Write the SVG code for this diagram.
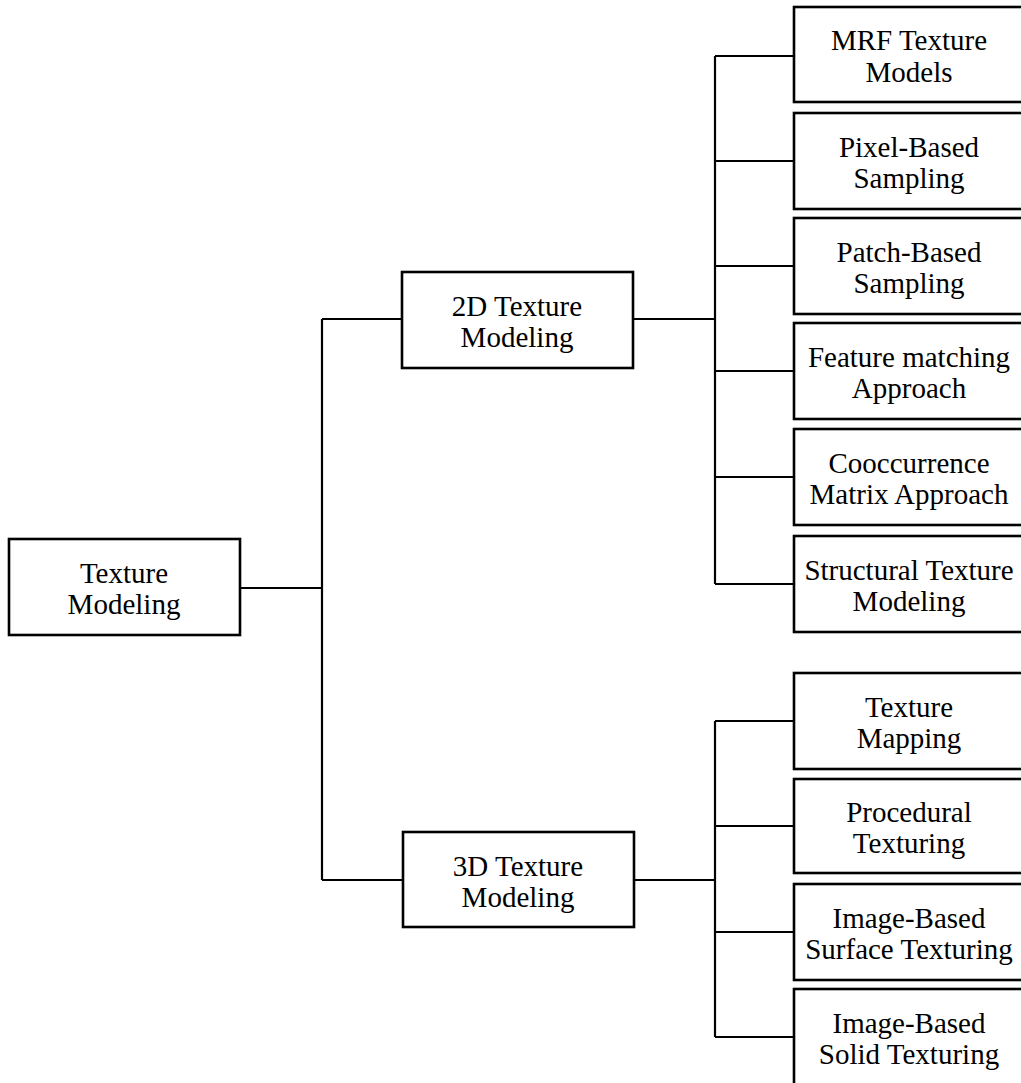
<svg xmlns="http://www.w3.org/2000/svg" width="1021" height="1083" viewBox="0 0 1021 1083">
  <style>
    .box { fill: #ffffff; stroke: #000000; stroke-width: 2.6; }
    .wire { fill: none; stroke: #000000; stroke-width: 2.2; }
    .lbl { font-family: "Liberation Serif", "Times New Roman", serif; font-size: 29px; fill: #000000; text-anchor: middle; }
  </style>
  <rect width="1021" height="1083" fill="#ffffff"/>

  <!-- tree connectors -->
  <g id="connectors">
    <path class="wire" d="M240 588 H322"/>
    <path class="wire" d="M322 319 V880"/>
    <path class="wire" d="M322 319 H402"/>
    <path class="wire" d="M322 880 H403"/>
    <path class="wire" d="M633 319 H715"/>
    <path class="wire" d="M634 880 H715"/>
    <!-- 2D branch -->
    <path class="wire" d="M715 56 V584"/>
    <path class="wire" d="M715 56 H794 M715 161 H794 M715 266 H794 M715 371 H794 M715 477 H794 M715 584 H794"/>
    <!-- 3D branch -->
    <path class="wire" d="M715 721 V1037"/>
    <path class="wire" d="M715 721 H794 M715 826 H794 M715 932 H794 M715 1037 H794"/>
  </g>

  <g id="texture-modeling">
    <rect class="box" x="9" y="539" width="231" height="96"/>
    <text class="lbl" x="124" y="583">Texture</text>
    <text class="lbl" x="124" y="614">Modeling</text>
  </g>

  <g id="texture-2d">
    <rect class="box" x="402" y="272" width="231" height="96"/>
    <text class="lbl" x="517" y="316">2D Texture</text>
    <text class="lbl" x="517" y="347">Modeling</text>
  </g>

  <g id="texture-3d">
    <rect class="box" x="403" y="832" width="231" height="95"/>
    <text class="lbl" x="518" y="876">3D Texture</text>
    <text class="lbl" x="518" y="907">Modeling</text>
  </g>

  <g id="mrf">
    <rect class="box" x="794" y="7" width="232" height="95"/>
    <text class="lbl" x="909" y="50">MRF Texture</text>
    <text class="lbl" x="909" y="82">Models</text>
  </g>

  <g id="pixel-based">
    <rect class="box" x="794" y="113" width="232" height="96"/>
    <text class="lbl" x="909" y="157">Pixel-Based</text>
    <text class="lbl" x="909" y="188">Sampling</text>
  </g>

  <g id="patch-based">
    <rect class="box" x="794" y="218" width="232" height="96"/>
    <text class="lbl" x="909" y="262">Patch-Based</text>
    <text class="lbl" x="909" y="293">Sampling</text>
  </g>

  <g id="feature-matching">
    <rect class="box" x="794" y="323" width="232" height="96"/>
    <text class="lbl" x="909" y="367">Feature matching</text>
    <text class="lbl" x="909" y="398">Approach</text>
  </g>

  <g id="cooccurrence">
    <rect class="box" x="794" y="429" width="232" height="96"/>
    <text class="lbl" x="909" y="473">Cooccurrence</text>
    <text class="lbl" x="909" y="504">Matrix Approach</text>
  </g>

  <g id="structural">
    <rect class="box" x="794" y="536" width="232" height="96"/>
    <text class="lbl" x="909" y="580">Structural Texture</text>
    <text class="lbl" x="909" y="611">Modeling</text>
  </g>

  <g id="texture-mapping">
    <rect class="box" x="794" y="673" width="232" height="96"/>
    <text class="lbl" x="909" y="717">Texture</text>
    <text class="lbl" x="909" y="748">Mapping</text>
  </g>

  <g id="procedural">
    <rect class="box" x="794" y="779" width="232" height="94"/>
    <text class="lbl" x="909" y="822">Procedural</text>
    <text class="lbl" x="909" y="853">Texturing</text>
  </g>

  <g id="surface-texturing">
    <rect class="box" x="794" y="884" width="232" height="96"/>
    <text class="lbl" x="909" y="928">Image-Based</text>
    <text class="lbl" x="909" y="959">Surface Texturing</text>
  </g>

  <g id="solid-texturing">
    <rect class="box" x="794" y="989" width="232" height="100"/>
    <text class="lbl" x="909" y="1033">Image-Based</text>
    <text class="lbl" x="909" y="1064">Solid Texturing</text>
  </g>
</svg>
